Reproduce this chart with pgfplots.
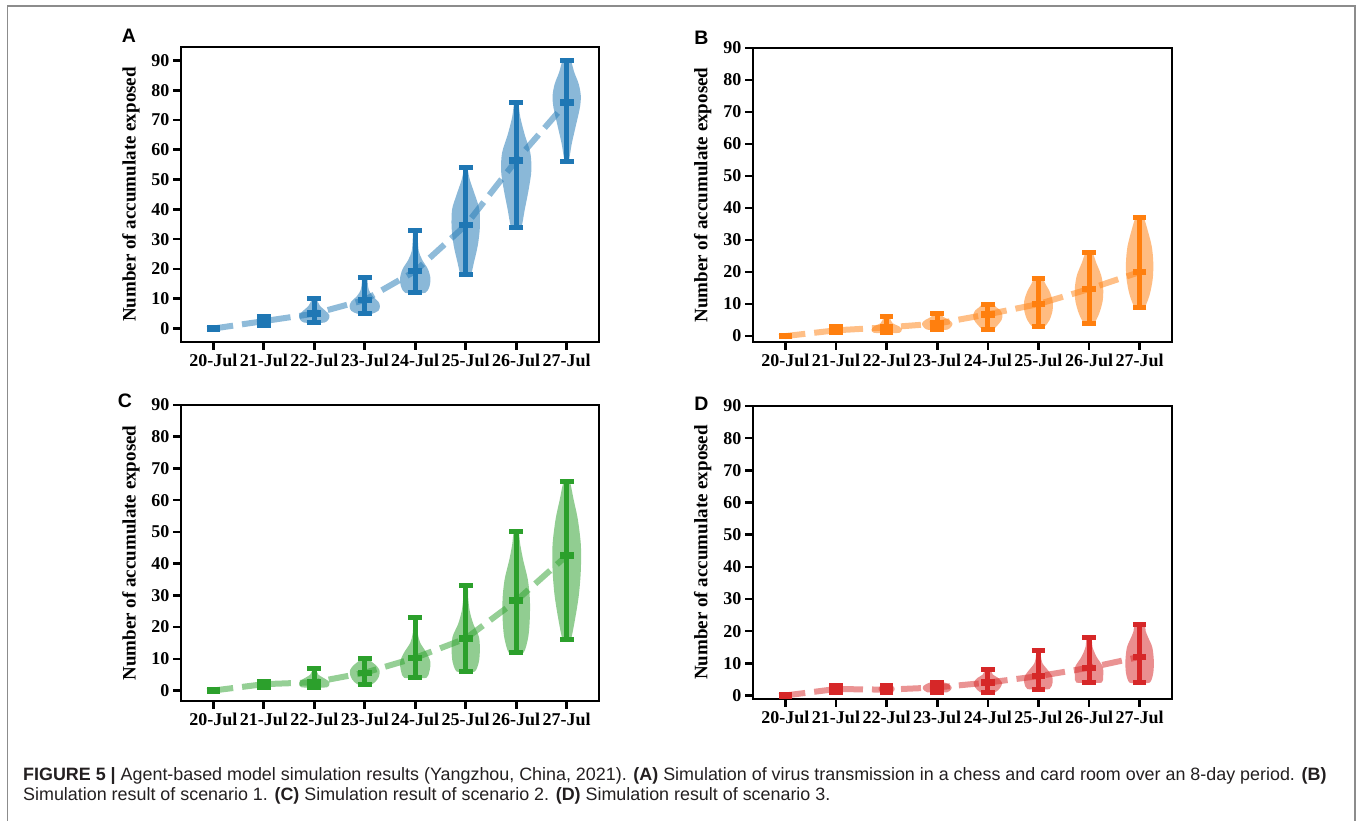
\documentclass[border=0pt]{standalone}
\usepackage{fontspec}
\setmainfont{Liberation Serif}
\newfontfamily\capfont{Liberation Sans}
\usepackage{pgfplots}
\usepackage{pgfplotstable}
\pgfplotsset{compat=1.18}

\definecolor{cA}{HTML}{1F77B4}
\definecolor{cB}{HTML}{FF7F0E}
\definecolor{cC}{HTML}{2CA02C}
\definecolor{cD}{HTML}{D62728}
\definecolor{framegray}{RGB}{140,140,140}
\definecolor{captext}{RGB}{35,31,32}

% ---------------- statistics: day, min, mean, max ----------------
\pgfplotstableread{
d lo m hi
0 0 0 0
1 1 2.5 4
2 2 5 10
3 5 9.6 17
4 12 19.3 33
5 18 34.7 54
6 34 56.4 76
7 56 75.9 90
}\statA
\pgfplotstableread{
d lo m hi
0 0 0 0
1 1 1.8 3
2 1 2.7 6
3 2 3.9 7
4 2 6.8 10
5 3 10 18
6 4 14.7 26
7 9 20 37
}\statB
\pgfplotstableread{
d lo m hi
0 0 0 0
1 1 2 3
2 1 2.6 7
3 2 5.6 10
4 4 10.3 23
5 6 16.4 33
6 12 28.3 50
7 16 42.5 66
}\statC
\pgfplotstableread{
d lo m hi
0 0 0 0
1 1 2 3
2 1 1.8 3
3 1 2.5 4
4 1 4 8
5 2 6 14
6 4 8.6 18
7 4 12 22
}\statD

% ---------------- violin outlines: day, y, half-width ----------------
\pgfplotstableread{
d y w
1 1 0
1 1 0.10
1 2.5 0.14
1 4 0.10
1 4 0
1 nan nan
2 2 0
2 2 0.20
2 3 0.28
2 4.5 0.30
2 6 0.22
2 7.5 0.12
2 9 0.07
2 10 0.05
2 10 0
2 nan nan
3 5 0
3 5 0.15
3 6 0.27
3 7.5 0.30
3 9 0.27
3 11 0.15
3 13 0.08
3 15 0.06
3 17 0.05
3 17 0
3 nan nan
4 12 0
4 12 0.20
4 14 0.28
4 17 0.30
4 20 0.25
4 23 0.14
4 26 0.07
4 30 0.05
4 33 0.04
4 33 0
4 nan nan
5 18 0
5 18 0.10
5 22 0.16
5 28 0.24
5 34 0.28
5 40 0.27
5 45 0.18
5 50 0.08
5 54 0.03
5 54 0
5 nan nan
6 34 0
6 34 0.10
6 40 0.17
6 47 0.25
6 53 0.30
6 59 0.28
6 65 0.17
6 71 0.08
6 76 0.04
6 76 0
6 nan nan
7 56 0
7 56 0.04
7 62 0.10
7 68 0.18
7 74 0.26
7 78 0.28
7 82 0.24
7 86 0.15
7 90 0.08
7 90 0
}\vioA
\pgfplotstableread{
d y w
1 1 0
1 1 0.10
1 2 0.13
1 3 0.10
1 3 0
1 nan nan
2 1 0
2 1 0.25
2 2 0.30
2 3 0.25
2 4 0.12
2 5 0.08
2 6 0.06
2 6 0
2 nan nan
3 2 0
3 2 0.20
3 3 0.28
3 4 0.30
3 5 0.24
3 6 0.12
3 7 0.06
3 7 0
3 nan nan
4 2 0
4 2 0.10
4 3.5 0.20
4 5 0.27
4 6.5 0.29
4 8 0.25
4 9 0.17
4 10 0.10
4 10 0
4 nan nan
5 3 0
5 3 0.12
5 5 0.22
5 8 0.28
5 11 0.28
5 14 0.22
5 16 0.15
5 18 0.08
5 18 0
5 nan nan
6 4 0
6 4 0.10
6 7 0.20
6 11 0.27
6 15 0.28
6 19 0.24
6 23 0.14
6 26 0.07
6 26 0
6 nan nan
7 9 0
7 9 0.10
7 13 0.20
7 18 0.26
7 23 0.27
7 28 0.24
7 33 0.16
7 37 0.08
7 37 0
}\vioB
\pgfplotstableread{
d y w
1 1 0
1 1 0.10
1 2 0.13
1 3 0.10
1 3 0
1 nan nan
2 1 0
2 1 0.25
2 2 0.30
2 3 0.28
2 4 0.18
2 5 0.08
2 6 0.05
2 7 0.04
2 7 0
2 nan nan
3 2 0
3 2 0.15
3 3.5 0.25
3 5 0.29
3 6.5 0.29
3 8 0.22
3 9 0.14
3 10 0.08
3 10 0
3 nan nan
4 4 0
4 4 0.22
4 6 0.28
4 9 0.30
4 12 0.22
4 15 0.10
4 18 0.05
4 23 0.03
4 23 0
4 nan nan
5 6 0
5 6 0.18
5 9 0.26
5 13 0.28
5 17 0.26
5 21 0.15
5 25 0.08
5 29 0.05
5 33 0.04
5 33 0
5 nan nan
6 12 0
6 12 0.15
6 17 0.24
6 23 0.27
6 29 0.27
6 35 0.23
6 41 0.14
6 46 0.08
6 50 0.05
6 50 0
6 nan nan
7 16 0
7 16 0.08
7 22 0.16
7 30 0.24
7 38 0.28
7 46 0.28
7 54 0.22
7 60 0.14
7 66 0.06
7 66 0
}\vioC
\pgfplotstableread{
d y w
1 1 0
1 1 0.10
1 2 0.13
1 3 0.10
1 3 0
1 nan nan
2 1 0
2 1 0.12
2 2 0.16
2 3 0.12
2 3 0
2 nan nan
3 1 0
3 1 0.20
3 2 0.28
3 3 0.27
3 4 0.15
3 4 0
3 nan nan
4 1 0
4 1 0.15
4 2.5 0.25
4 4 0.28
4 5.5 0.20
4 6.5 0.10
4 8 0.05
4 8 0
4 nan nan
5 2 0
5 2 0.22
5 4 0.28
5 6 0.27
5 8 0.18
5 10 0.08
5 12 0.05
5 14 0.04
5 14 0
5 nan nan
6 4 0
6 4 0.25
6 6 0.28
6 9 0.27
6 12 0.15
6 15 0.07
6 18 0.05
6 18 0
6 nan nan
7 4 0
7 4 0.20
7 7 0.27
7 11 0.28
7 15 0.25
7 18 0.17
7 20 0.12
7 22 0.10
7 22 0
}\vioD

\pgfplotsset{
  panel/.style={
    scale only axis, anchor=south west,
    xmin=-0.64, xmax=7.64,
    xtick={0,1,2,3,4,5,6,7},
    xticklabels={20-Jul,21-Jul,22-Jul,23-Jul,24-Jul,25-Jul,26-Jul,27-Jul},
    ytick={0,10,20,30,40,50,60,70,80,90},
    tick align=outside, xtick pos=left, ytick pos=left,
    major tick length=8pt,
    tick style={line width=2.6pt, black},
    axis line style={line width=2.8pt},
    /pgf/number format/assume math mode=true,
    ticklabel style={font=\fontsize{18}{18}\selectfont\bfseries},
    ylabel={Number of accumulate exposed},
    every axis y label/.style={at={(axis description cs:-0.12,0.5)}, rotate=90, anchor=center, font=\fontsize{19}{19}\selectfont\bfseries},
    unbounded coords=jump,
  },
  vio/.style={draw=none, fill=#1, fill opacity=0.52, smooth, tension=0.5, forget plot},
  dashl/.style={color=#1, draw opacity=0.5, line width=6pt, dash pattern=on 20pt off 9pt, forget plot, no markers},
  bars/.style={color=#1, only marks, mark=-, mark size=6.8pt, mark options={line width=6.5pt, solid}, forget plot,
    error bars/.cd, y dir=both, y explicit, error mark=-,
    error bar style={line width=5pt, color=#1, solid},
    error mark options={rotate=90, line width=5pt, mark size=6.8pt, color=#1, solid}},
}

\begin{document}
\begin{tikzpicture}[x=1pt, y=1pt]
\path[use as bounding box] (0,0) rectangle (1362,821);
\draw[framegray, line width=1.5pt] (7.3,-5) -- (7.3,815) -- (1355,815) -- (1355,-5);

% Panel A
\begin{axis}[panel, at={(181pt,479pt)}, width=418pt, height=295pt, ymin=-4.5, ymax=94.5]
\addplot[vio=cA] table[x expr=\thisrow{d}+\thisrow{w}, y=y] \vioA;
\addplot[vio=cA] table[x expr=\thisrow{d}-\thisrow{w}, y=y] \vioA;
\addplot[dashl=cA] table[x=d, y=m] \statA;
\addplot[bars=cA] table[x=d, y=m, y error plus expr=\thisrow{hi}-\thisrow{m}, y error minus expr=\thisrow{m}-\thisrow{lo}] \statA;
\end{axis}

% Panel B
\begin{axis}[panel, at={(753pt,479pt)}, width=419pt, height=294pt, ymin=-1.85, ymax=90]
\addplot[vio=cB] table[x expr=\thisrow{d}+\thisrow{w}, y=y] \vioB;
\addplot[vio=cB] table[x expr=\thisrow{d}-\thisrow{w}, y=y] \vioB;
\addplot[dashl=cB] table[x=d, y=m] \statB;
\addplot[bars=cB] table[x=d, y=m, y error plus expr=\thisrow{hi}-\thisrow{m}, y error minus expr=\thisrow{m}-\thisrow{lo}] \statB;
\end{axis}

% Panel C
\begin{axis}[panel, at={(181pt,120pt)}, width=418pt, height=296pt, ymin=-3.3, ymax=90]
\addplot[vio=cC] table[x expr=\thisrow{d}+\thisrow{w}, y=y] \vioC;
\addplot[vio=cC] table[x expr=\thisrow{d}-\thisrow{w}, y=y] \vioC;
\addplot[dashl=cC] table[x=d, y=m] \statC;
\addplot[bars=cC] table[x=d, y=m, y error plus expr=\thisrow{hi}-\thisrow{m}, y error minus expr=\thisrow{m}-\thisrow{lo}] \statC;
\end{axis}

% Panel D
\begin{axis}[panel, at={(753pt,122pt)}, width=419pt, height=293pt, ymin=-1.1, ymax=90]
\addplot[vio=cD] table[x expr=\thisrow{d}+\thisrow{w}, y=y] \vioD;
\addplot[vio=cD] table[x expr=\thisrow{d}-\thisrow{w}, y=y] \vioD;
\addplot[dashl=cD] table[x=d, y=m] \statD;
\addplot[bars=cD] table[x=d, y=m, y error plus expr=\thisrow{hi}-\thisrow{m}, y error minus expr=\thisrow{m}-\thisrow{lo}] \statD;
\end{axis}

% panel letters
\node[font=\capfont\bfseries\fontsize{19.5}{20}\selectfont, inner sep=0] at (129,785) {A};
\node[font=\capfont\bfseries\fontsize{19.5}{20}\selectfont, inner sep=0] at (701.5,783) {B};
\node[font=\capfont\bfseries\fontsize{19.5}{20}\selectfont, inner sep=0] at (125,420.5) {C};
\node[font=\capfont\bfseries\fontsize{19.5}{20}\selectfont, inner sep=0] at (701.5,417) {D};

% caption
\node[anchor=base west, inner sep=0, text=captext, font=\capfont\fontsize{17.9}{19}\selectfont] at (23,40)
  {\textbf{FIGURE 5 |} Agent-based model simulation results (Yangzhou, China, 2021). \textbf{(A)} Simulation of virus transmission in a chess and card room over an 8-day period. \textbf{(B)}};
\node[anchor=base west, inner sep=0, text=captext, font=\capfont\fontsize{17.9}{19}\selectfont] at (23,20)
  {Simulation result of scenario 1. \textbf{(C)} Simulation result of scenario 2. \textbf{(D)} Simulation result of scenario 3.};
\end{tikzpicture}
\end{document}
